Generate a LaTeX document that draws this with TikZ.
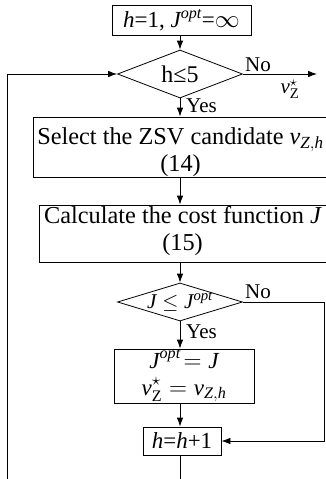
\documentclass[tikz,border=0pt]{standalone}
\usepackage{fontspec}
\setmainfont{Liberation Serif}
\usetikzlibrary{positioning, arrows.meta, shapes.geometric}
% italic letters from the text face
\newcommand{\vi}[1]{\mathit{#1}}

\begin{document}
\begin{tikzpicture}[
    x=1pt, y=-1pt,
    font=\fontsize{23}{26}\selectfont,
    stepbox/.style={
        rectangle, draw, line width=0.8pt,
        inner sep=0pt, align=center,
    },
    bigtext/.style={
        font=\fontsize{24.3}{27}\selectfont,
        inner sep=0pt, align=center,
    },
    decision/.style={
        diamond, draw, line width=0.8pt,
        inner sep=0pt, shape aspect=2.6,
        minimum width=125pt, minimum height=#1,
    },
    branch/.style={font=\fontsize{21}{23}\selectfont, inner sep=0pt},
    flow/.style={
        -{Latex[length=9pt, width=6.5pt]},
        line width=0.8pt,
    },
]

% =============== Frame ===============
\path[use as bounding box, clip] (0,0) rectangle (326,479);

% x of the main column
\def\mx{180}

% =============== Steps ===============
\node[stepbox, minimum width=139pt, minimum height=30pt] (init)
    at (181.5, 20) {$\vi{h}$=1, $\vi{J}^{\vi{opt}}$=$\infty$};
\node[decision=48pt, font=\fontsize{24}{26}\selectfont] (cond1)
    at (\mx, 74) {h≤5};
\node[stepbox, minimum width=297pt, minimum height=60pt] (select)
    at (181.5, 147) {};
\node[bigtext] (selecttxt) at (180.5, 152)
    {Select the ZSV candidate $\vi{v}_{\vi{Z,h}}$\\(14)};
\node[stepbox, minimum width=291pt, minimum height=57pt] (calc)
    at (184.5, 233.5) {};
\node[bigtext] (calctxt) at (182.5, 231)
    {Calculate the cost function $\vi{J}$\\(15)};
\node[decision=38pt] (cond2) at (\mx, 302) {};
\node[font=\fontsize{21}{23}\selectfont, inner sep=0pt] (cond2txt)
    at (cond2.center) {$\vi{J} \leq \vi{J}^{\vi{opt}}$};
\node[stepbox, minimum width=140pt, minimum height=54pt] (update)
    at (184, 376) {$\vi{J}^{\vi{opt}}\!= \vi{J}$\\[1pt]$\vi{v}_{\mathrm{Z}}^{\star} = \vi{v}_{\vi{Z,h}}$};
\node[stepbox, minimum width=78pt, minimum height=28pt] (incr)
    at (182, 441) {$\vi{h}$=$\vi{h}$+1};

% free ends of the side lines
\coordinate (out) at (317, 74);
\coordinate (rt)  at (324.5, 302);
\coordinate (lf)  at (7, 495);

% =============== Connectors ===============
\draw[flow] (init.south -| cond1) -- (cond1.north);
\draw[flow] (cond1.south) -- (select.north -| cond1);
\draw[flow] (select.south -| cond1) -- (calc.north -| cond1);
\draw[flow] (calc.south -| cond1) -- (cond2.north);
\draw[flow] (cond2.south) -- (update.north -| cond1);
\draw[flow] (update.south -| cond1) -- (incr.north -| cond1);
\draw[flow] (cond1.east) -- (out);
\draw[flow] (cond2.east) -- (rt) |- (incr.east);
% loop back to the first test
\draw[flow] (incr.south -| cond1) -- (cond1 |- lf) -- (lf) |- (cond1.west);

% =============== Branch labels ===============
\node[branch, anchor=south west] (no1)  at (245, 72)  {No};
\node[branch] (vout) at (290, 89) {$\vi{v}_{\mathrm{Z}}^{\star}$};
\node[branch, anchor=north west] (yes1) at (186, 99)  {Yes};
\node[branch, anchor=south west] (no2)  at (245, 299) {No};
\node[branch, anchor=north west] (yes2) at (186, 325) {Yes};

\end{tikzpicture}
\end{document}
